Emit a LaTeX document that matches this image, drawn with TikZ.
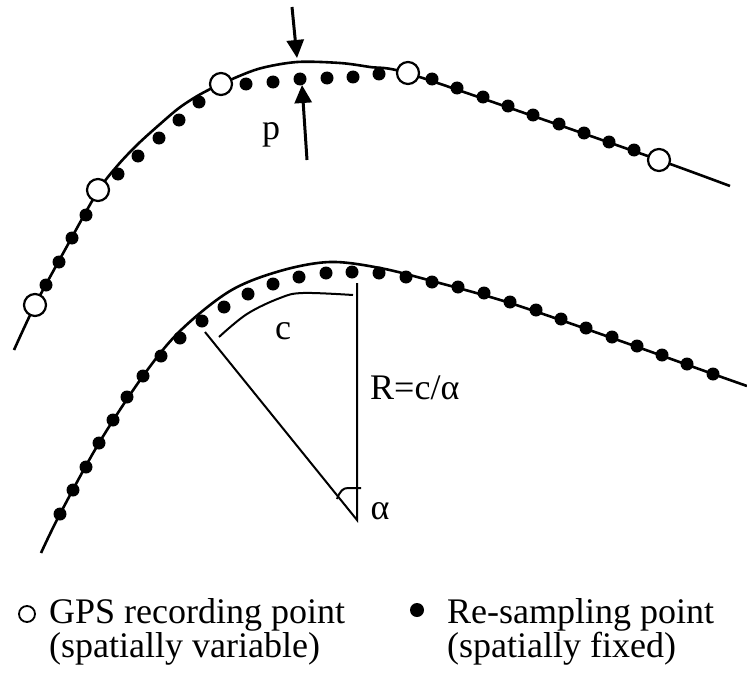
\documentclass[tikz,border=0pt]{standalone}
\usepackage{fontspec}
\setmainfont{Liberation Serif}
\usetikzlibrary{arrows.meta}

\begin{document}
\begin{tikzpicture}[
    x=1pt, y=-1pt,
    track/.style={line width=2.6pt},
    gps/.style={line width=2.2pt, fill=white},
    radius/.style={line width=2pt},
    pointer/.style={-{Triangle[length=18pt, width=17pt]}, line width=3pt},
    label/.style={font=\fontsize{36}{36}\selectfont, inner sep=0pt},
    legend/.style={font=\fontsize{36}{34}\selectfont, inner sep=0pt, align=left, anchor=north west},
]
    \useasboundingbox (0,0) rectangle (747,677);

    % Upper track: GPS points and re-sampled points
    \draw[track] plot[smooth, tension=0.5] coordinates {(14,350) (35,305) (66,248) (98,191) (118,165)
        (138,144) (159,125) (179,108) (199,95) (221,84) (258,69) (297,62) (340,63) (370,67) (407,73)
        (533,116) (659,160) (730,186)};
    \foreach \px/\py in {46/285, 59/262, 72/238, 86/215, 118/174, 138/156, 159/138, 179/120, 199/102,
        246/84, 273/82, 300/79, 327/78, 353/77, 379/74, 432/79, 457/88, 483/97, 508/106, 533/115,
        559/124, 584/133, 609/142, 634/150}
        \fill (\px,\py) circle (6.5pt);
    \foreach \px/\py in {35/305, 98/190, 221/84, 408/73, 659/160}
        \filldraw[gps] (\px,\py) circle (11pt);

    % Offset p
    \coordinate (downfrom) at (292,7);
    \coordinate (downtip) at (297,58);
    \coordinate (upfrom) at (307,160);
    \coordinate (uptip) at (302,85);
    \draw[pointer] (downfrom) -- (downtip);
    \draw[pointer] (upfrom) -- (uptip);
    \node[label, anchor=base] (offset) at (271,139) {p};

    % Lower track: curvature
    \draw[track] plot[smooth, tension=0.55] coordinates {(41,553) (60,514) (99,443) (143,376) (180,331)
        (230,291) (280,271) (330,262) (380,268) (432,281) (510,303) (612,338) (713,374) (747,386)};
    \foreach \px/\py in {60/514, 73/490, 86/467, 99/443, 113/420, 127/397, 143/376, 161/356, 180/338,
        202/321, 224/307, 248/294, 273/284, 299/277, 326/273, 352/272, 379/273, 406/277, 432/282,
        458/287, 484/293, 510/302, 536/310, 561/319, 586/328, 612/337, 637/346, 662/355, 687/364, 713/374}
        \fill (\px,\py) circle (6.5pt);

    \coordinate (centre) at (357,520);
    \coordinate (armleft) at (205,332);
    \coordinate (armtop) at (357,283);
    \draw[radius] (armleft) -- (centre) -- (armtop);
    \draw[radius] plot[smooth, tension=0.6] coordinates {(219,337) (247,314) (280,298) (303,293) (353,295)};
    \draw[radius] (337,499) .. controls (340,491) and (343,488) .. (348,488) -- (361,488);
    \node[label, anchor=base] (arclen) at (283,339) {c};
    \node[label, anchor=base west] (radlabel) at (370,399) {R=c/α};
    \node[label, anchor=base] (angle) at (380,519) {α};

    % Legend
    \filldraw[gps, line width=1.8pt] (27,614) circle (8pt);
    \node[legend] (gpstext) at (49,598) {GPS recording point\\(spatially variable)};
    \fill (417,610) circle (7pt);
    \node[legend] (sampletext) at (447,598) {Re-sampling point\\(spatially fixed)};
\end{tikzpicture}
\end{document}
